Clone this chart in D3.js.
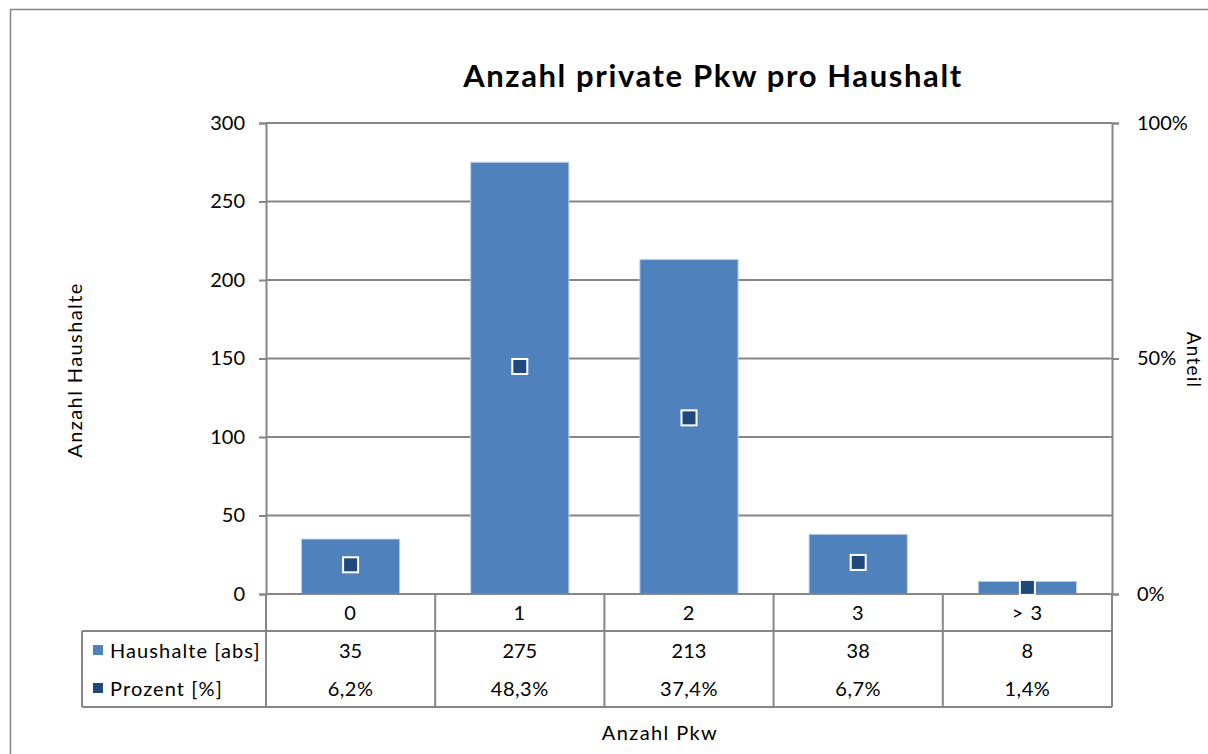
<!DOCTYPE html>
<html>
<head>
<meta charset="utf-8">
<script src="https://cdn.jsdelivr.net/npm/d3@7"></script>
<style>
  body { margin: 0; background: #fff; }
  svg text { font-family: Lato, "Open Sans", sans-serif; fill: #000; }
</style>
</head>
<body>
<div class="canvas"></div>
<script>
const categories = ['0', '1', '2', '3', '> 3'];
const households = [35, 275, 213, 38, 8];
const percents = [6.2, 48.3, 37.4, 6.7, 1.4];
const leftTicks = [0, 50, 100, 150, 200, 250, 300];
const rightTicks = [0, 50, 100];
const seriesNames = ['Haushalte [abs]', 'Prozent [%]'];

const size = {'width': 1208, 'height': 754};
const plot = {'left': 266, 'right': 1112, 'top': 123, 'bottom': 594};
const barColor = '#4f81bd';
const markColor = '#1f497d';
const lineColor = '#868686';

const svg = d3.select('.canvas')
  .append('svg')
  .attr('width', size.width)
  .attr('height', size.height);

// chart border
svg.append('rect')
  .attr('x', 10.5).attr('y', 9.5)
  .attr('width', 1230).attr('height', 780)
  .attr('fill', 'none').attr('stroke', lineColor).attr('stroke-width', 1.5);

// scales
const x = d3.scaleBand()
  .domain(categories)
  .range([plot.left, plot.right])
  .paddingInner(0.42)
  .paddingOuter(0.21);
const xCat = d3.scaleBand().domain(categories).range([plot.left, plot.right]);
const yLeft = d3.scaleLinear().domain([0, 300]).range([plot.bottom, plot.top]);
const yRight = d3.scaleLinear().domain([0, 100]).range([plot.bottom, plot.top]);

// gridlines
svg.append('g').selectAll('line').data(leftTicks.slice(1)).enter().append('line')
  .attr('x1', plot.left).attr('x2', plot.right)
  .attr('y1', d => yLeft(d)).attr('y2', d => yLeft(d))
  .attr('stroke', lineColor).attr('stroke-width', 2);

// left axis
const yAxisLeft = d3.axisLeft(yLeft).tickValues(leftTicks).tickSize(7).tickPadding(14);
const gl = svg.append('g').attr('transform', `translate(${plot.left},0)`).call(yAxisLeft);
gl.select('.domain').attr('stroke', lineColor).attr('stroke-width', 2);
gl.selectAll('.tick line').attr('stroke', lineColor).attr('stroke-width', 2);
gl.selectAll('.tick text').style('font-size', '20px').attr('fill', '#000');

// right axis
const yAxisRight = d3.axisRight(yRight).tickValues(rightTicks).tickSize(7).tickPadding(18)
  .tickFormat(d => d + '%');
const gr = svg.append('g').attr('transform', `translate(${plot.right},0)`).call(yAxisRight);
gr.select('.domain').attr('stroke', lineColor).attr('stroke-width', 2);
gr.selectAll('.tick line').attr('stroke', lineColor).attr('stroke-width', 2);
gr.selectAll('.tick text').style('font-size', '20px').attr('fill', '#000');

// bars
svg.append('g').selectAll('rect').data(households).enter().append('rect')
  .attr('x', (d, i) => x(categories[i]))
  .attr('y', d => yLeft(d))
  .attr('width', x.bandwidth())
  .attr('height', d => plot.bottom - yLeft(d))
  .attr('fill', barColor)
  .attr('stroke', '#b9cde5').attr('stroke-width', 1);

// baseline
svg.append('line')
  .attr('x1', plot.left).attr('x2', plot.right)
  .attr('y1', plot.bottom).attr('y2', plot.bottom)
  .attr('stroke', lineColor).attr('stroke-width', 2);

// percent markers
const ms = 15;
svg.append('g').selectAll('rect').data(percents).enter().append('rect')
  .attr('x', (d, i) => xCat(categories[i]) + xCat.bandwidth() / 2 - ms / 2)
  .attr('y', d => yRight(d) - ms / 2)
  .attr('width', ms).attr('height', ms)
  .attr('fill', markColor)
  .attr('stroke', '#fff').attr('stroke-width', 2);

// data table
const table = {'rowCat': 631, 'row1': 669, 'bottom': 707, 'legendLeft': 82};
const tg = svg.append('g').attr('stroke', lineColor).attr('stroke-width', 2);
tg.append('line').attr('x1', table.legendLeft).attr('x2', plot.right)
  .attr('y1', table.rowCat).attr('y2', table.rowCat);
tg.append('line').attr('x1', table.legendLeft).attr('x2', plot.right)
  .attr('y1', table.bottom).attr('y2', table.bottom);
tg.append('line').attr('x1', table.legendLeft).attr('x2', table.legendLeft)
  .attr('y1', table.rowCat).attr('y2', table.bottom);
tg.selectAll('line.v').data(categories.concat(['end'])).enter().append('line')
  .attr('x1', (d, i) => i < categories.length ? xCat(d) : plot.right)
  .attr('x2', (d, i) => i < categories.length ? xCat(d) : plot.right)
  .attr('y1', plot.bottom).attr('y2', table.bottom);

const cellCenter = d => xCat(d) + xCat.bandwidth() / 2;
svg.append('g').selectAll('text').data(categories).enter().append('text')
  .attr('x', d => cellCenter(d)).attr('y', 620)
  .attr('text-anchor', 'middle').style('font-size', '20px').style('letter-spacing', '1px')
  .text(d => d);
svg.append('g').selectAll('text').data(households).enter().append('text')
  .attr('x', (d, i) => cellCenter(categories[i])).attr('y', 658)
  .attr('text-anchor', 'middle').style('font-size', '20px')
  .text(d => d);
svg.append('g').selectAll('text').data(percents).enter().append('text')
  .attr('x', (d, i) => cellCenter(categories[i])).attr('y', 696)
  .attr('text-anchor', 'middle').style('font-size', '20px').style('letter-spacing', '0.5px')
  .text(d => d.toFixed(1).replace('.', ',') + '%');

// legend keys in table
const legendColors = [barColor, markColor];
const lg = svg.append('g').selectAll('g').data(seriesNames).enter().append('g')
  .attr('transform', (d, i) => `translate(0,${i === 0 ? 650 : 688})`);
lg.append('rect').attr('x', 93).attr('y', -5).attr('width', 10).attr('height', 10)
  .attr('fill', (d, i) => legendColors[i]);
lg.append('text').attr('x', 110).attr('y', 8).style('font-size', '20px')
  .style('letter-spacing', '1.1px').text(d => d);

// titles
svg.append('text').attr('x', 713).attr('y', 87)
  .attr('text-anchor', 'middle').style('font-size', '31px').style('font-weight', 'bold')
  .style('letter-spacing', '1.6px')
  .text('Anzahl private Pkw pro Haushalt');
svg.append('text').attr('transform', 'translate(82,370) rotate(-90)')
  .attr('text-anchor', 'middle').style('font-size', '20px').style('letter-spacing', '1.4px')
  .text('Anzahl Haushalte');
svg.append('text').attr('transform', 'translate(1187,360) rotate(90)')
  .attr('text-anchor', 'middle').style('font-size', '19px').style('letter-spacing', '1.2px')
  .text('Anteil');
svg.append('text').attr('x', 660).attr('y', 740)
  .attr('text-anchor', 'middle').style('font-size', '20px').style('letter-spacing', '1.4px')
  .text('Anzahl Pkw');
</script>
</body>
</html>
